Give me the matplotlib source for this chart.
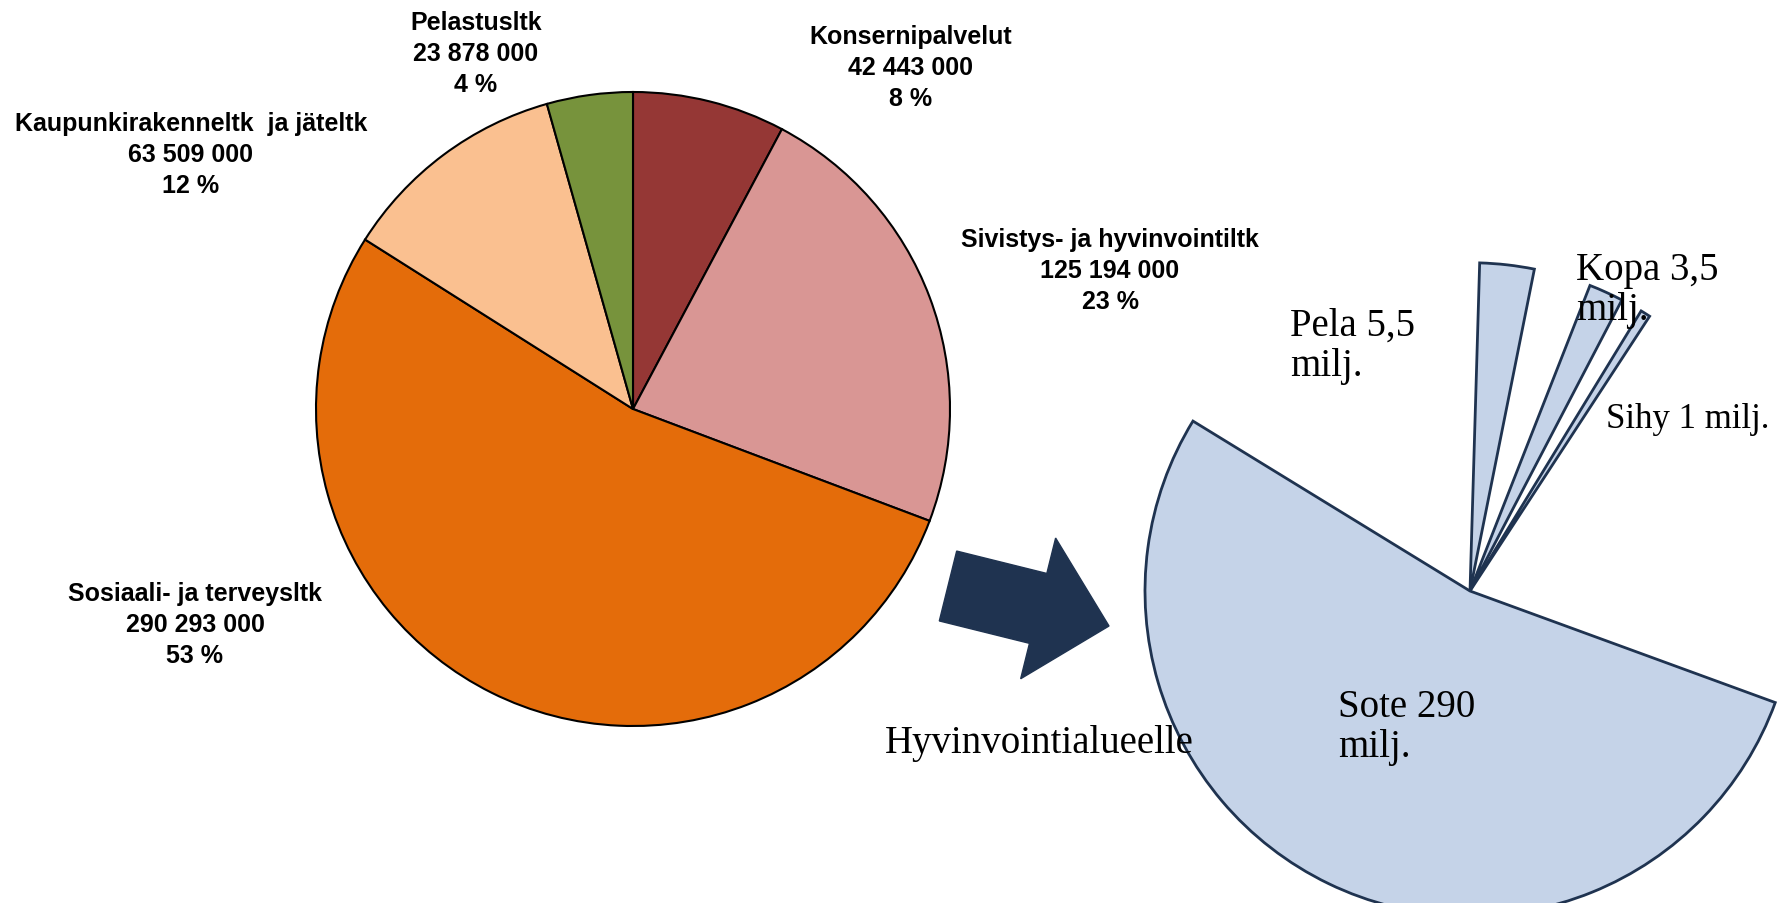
import matplotlib
matplotlib.use('Agg')
import matplotlib.pyplot as plt
from matplotlib.patches import Wedge, FancyArrow
from matplotlib.transforms import IdentityTransform

W, H = 1784, 904

# left pie: city budget by unit (clockwise from top)
units = ['Konsernipalvelut', 'Sivistys- ja hyvinvointiltk', 'Sosiaali- ja terveysltk',
         'Kaupunkirakenneltk  ja jäteltk', 'Pelastusltk']
budget = [42443000, 125194000, 290293000, 63509000, 23878000]
unit_colors = ['#953735', '#D99694', '#E46C0A', '#FAC090', '#77933C']

# right pie: moved to the wellbeing services county (milj.)
moved = ['Sote', 'Pela', 'Kopa', 'Sihy']
moved_values = [290, 5.5, 3.5, 1]
moved_labels = ['Sote 290\nmilj.', 'Pela 5,5\nmilj.', 'Kopa 3,5\nmilj.', 'Sihy 1 milj.']

fig = plt.figure(figsize=(W / 100, H / 100), dpi=100)


def fpos(x, y):
    return x / W, 1 - y / H


# ---- left pie ----
cx, cy, r = 633, 410, 317
ax = fig.add_axes([(cx - r * 1.05) / W, (H - cy - r * 1.05) / H, 2.1 * r / W, 2.1 * r / H])
ax.pie(budget, colors=unit_colors, startangle=90, counterclock=False,
       wedgeprops=dict(edgecolor='black', linewidth=1.5))
ax.set_aspect('auto')
ax.set_xlim(-1.05, 1.05)
ax.set_ylim(-1.05, 1.05)
ax.axis('off')

total = sum(budget)
label_pos = [(911, 68), (1110, 271), (195, 625), (191, 155), (476, 54)]
for name, v, (x, y) in zip(units, budget, label_pos):
    txt = f"{name}\n{v:,}".replace(',', ' ') + f"\n{round(v / total * 100)} %"
    fig.text(*fpos(x, y), txt, ha='center', va='center', fontsize=18, fontweight='bold',
             linespacing=1.35, family=['Liberation Sans Narrow', 'Liberation Sans', 'DejaVu Sans'])

# ---- arrow ----
fig.add_artist(FancyArrow(948, H - 587, 161, -40, width=72, head_width=145, head_length=73,
                          length_includes_head=True, color='#1F3350',
                          transform=IdentityTransform()))
fig.text(*fpos(885, 753), 'Hyvinvointialueelle', ha='left', va='baseline',
         fontsize=28, family='Liberation Serif')

# ---- right pie (part of the whole city budget, small slices widened) ----
rx0, ry0, rr = 1470, 592, 325
ax2 = fig.add_axes([(rx0 - 1.2 * rr) / W, (H - ry0 - 1.2 * rr) / H, 2.4 * rr / W, 2.4 * rr / H])
ax2.set_xlim(-1.2, 1.2)
ax2.set_ylim(-1.2, 1.2)
ax2.axis('off')

sote_span = moved_values[0] / (total / 1e6) * 360
sote_mid = 244.2
ax2.add_patch(Wedge((0, 0), 1.0, sote_mid - sote_span / 2, sote_mid + sote_span / 2,
                    facecolor='#C5D3E8', edgecolor='#1F3350', linewidth=2, clip_on=False))
spike_mid = [83.5, 65.5, 57.7]
for v, mid in zip(moved_values[1:], spike_mid):
    span = 1.75 * v
    ax2.add_patch(Wedge((0, 0), 1.01, mid - span / 2, mid + span / 2,
                        facecolor='#C5D3E8', edgecolor='#1F3350', linewidth=2, clip_on=False))

lab_pos = [(1338, 717), (1290, 336), (1576, 280), (1606, 428)]
lab_size = [28, 28, 28, 25]
for lab, (x, y), fs in zip(moved_labels, lab_pos, lab_size):
    for i, line in enumerate(lab.split('\n')):
        fig.text(*fpos(x, y + i * 40), line, ha='left', va='baseline',
                 fontsize=fs, family='Liberation Serif')

fig.savefig('out.png', dpi=100)
